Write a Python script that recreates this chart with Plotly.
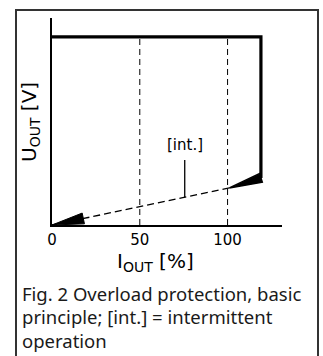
import numpy as np
import plotly.graph_objects as go

# characteristic curve (I_OUT in %, U_OUT in % of nominal)
curve_i = [0, 119, 119]
curve_u = [100, 100, 25]
# intermittent (hiccup) path: from end of knee back to the origin
restart_i = [101, 0]
restart_u = [19.7, 0]
# dashed guides
guide_i = [50, 100]
guide_top = 100
tick_vals = [0, 50, 100]
tick_text = ['0', '50', '100']
# [int.] note
note_i = 75.6
note_u = [34.6, 14.7]
note_text_u = 42.5

caption = ['Fig. 2 Overload protection, basic',
           'principle; [int.] = intermittent',
           'operation']

W, H = 323, 356
# paper = the outer frame; the plot itself sits inside it
FL, FR, FT = 17, 317, 11
PL, PR, PT, PB = 52, 282, 18, 225
X_RANGE = [0, 131]
Y_RANGE = [0, 110]
fw = FR - FL
fh = H - FT
sx = (PR - PL) / (X_RANGE[1] - X_RANGE[0])
sy = (PB - PT) / (Y_RANGE[1] - Y_RANGE[0])


def wedge(tip, tail, half_w):
    # filled arrow head from tail (base centre) to tip, half_w in px
    dx = (tail[0] - tip[0]) * sx
    dy = (tail[1] - tip[1]) * sy
    ln = np.hypot(dx, dy)
    nx, ny = -dy / ln, dx / ln
    xs = [tip[0], tail[0] + nx * half_w / sx, tail[0] - nx * half_w / sx, tip[0]]
    ys = [tip[1], tail[1] + ny * half_w / sy, tail[1] - ny * half_w / sy, tip[1]]
    return xs, ys


# pixel -> paper coords
def px_x(px):
    return (px - FL) / fw


def px_y(py):
    return (H - py) / fh


fig = go.Figure()

# empty trace that carries the frame axes (drawn first, underneath)
fig.add_trace(go.Scatter(x=[], y=[], xaxis='x2', yaxis='y2'))

for g in guide_i:
    fig.add_trace(go.Scatter(x=[g, g], y=[0, guide_top], mode='lines',
                             line=dict(color='black', width=1, dash='6px,4px')))

fig.add_trace(go.Scatter(x=restart_i, y=restart_u, mode='lines',
                         line=dict(color='black', width=1.4, dash='7px,4px')))

fig.add_trace(go.Scatter(x=curve_i, y=curve_u, mode='lines',
                         line=dict(color='black', width=3.2)))

# arrow head at the knee, pointing towards the restart point
xs, ys = wedge((restart_i[0], restart_u[0]), (curve_i[-1], curve_u[-1]), 4.5)
fig.add_trace(go.Scatter(x=xs, y=ys, mode='lines', fill='toself', fillcolor='black',
                         line=dict(color='black', width=1.5)))

# arrow head at the origin
frac = 32 / np.hypot((restart_i[0] - restart_i[1]) * sx, (restart_u[0] - restart_u[1]) * sy)
tail = (restart_i[1] + (restart_i[0] - restart_i[1]) * frac,
        restart_u[1] + (restart_u[0] - restart_u[1]) * frac)
xs, ys = wedge((restart_i[1], restart_u[1]), tail, 5.5)
fig.add_trace(go.Scatter(x=xs, y=ys, mode='lines', fill='toself', fillcolor='black',
                         line=dict(color='black', width=1)))

# leader line for [int.]
fig.add_trace(go.Scatter(x=[note_i, note_i], y=note_u, mode='lines',
                         line=dict(color='black', width=1.3)))

fig.add_annotation(x=note_i, y=note_text_u, text='[int.]', showarrow=False,
                   xanchor='center', yanchor='middle',
                   font=dict(family='DejaVu Sans', size=15, color='black'))

# axis titles
fig.add_annotation(x=px_x(30), y=px_y(122), xref='paper', yref='paper',
                   text='U<sub>OUT</sub> [V]', showarrow=False, textangle=-90,
                   xanchor='center', yanchor='middle',
                   font=dict(family='DejaVu Sans', size=20, color='black'))
fig.add_annotation(x=px_x(155), y=px_y(262), xref='paper', yref='paper',
                   text='I<sub>OUT</sub> [%]', showarrow=False,
                   xanchor='center', yanchor='middle',
                   font=dict(family='DejaVu Sans', size=20, color='black'))

for k, line in enumerate(caption):
    fig.add_annotation(x=px_x(20), y=px_y(293 + 23.5 * k), xref='paper', yref='paper',
                       text=line, showarrow=False, xanchor='left', yanchor='middle',
                       font=dict(family='Noto Sans', size=18.5, color='#1a1a1a'))

fig.update_layout(
    width=W, height=H, margin=dict(l=FL, r=W - FR, t=FT, b=0, pad=0),
    plot_bgcolor='rgba(0,0,0,0)', paper_bgcolor='white', showlegend=False,
    xaxis=dict(domain=[px_x(PL), px_x(PR)], anchor='y', range=X_RANGE,
               showline=True, linecolor='black', linewidth=1.5,
               showgrid=False, zeroline=False, tickvals=tick_vals, ticktext=tick_text,
               ticks='', tickfont=dict(family='DejaVu Sans', size=15, color='black')),
    yaxis=dict(domain=[px_y(PB), px_y(PT)], anchor='x', range=Y_RANGE,
               showline=True, linecolor='black', linewidth=1.5,
               showgrid=False, zeroline=False, showticklabels=False, ticks=''),
    # frame: left/right from the mirrored y2 line, top from x2
    xaxis2=dict(domain=[0, 1], anchor='y2', side='top', range=[0, 1],
                showline=True, linecolor='#333333', linewidth=1.5,
                showgrid=False, zeroline=False, showticklabels=False, ticks=''),
    yaxis2=dict(domain=[0, 1], anchor='x2', range=[0, 1], mirror=True,
                showline=True, linecolor='#333333', linewidth=1.5,
                showgrid=False, zeroline=False, showticklabels=False, ticks=''),
)

fig.write_html("out.html", config={'displayModeBar': False},
               post_script="document.body.style.margin='0';document.body.style.overflow='hidden';")
